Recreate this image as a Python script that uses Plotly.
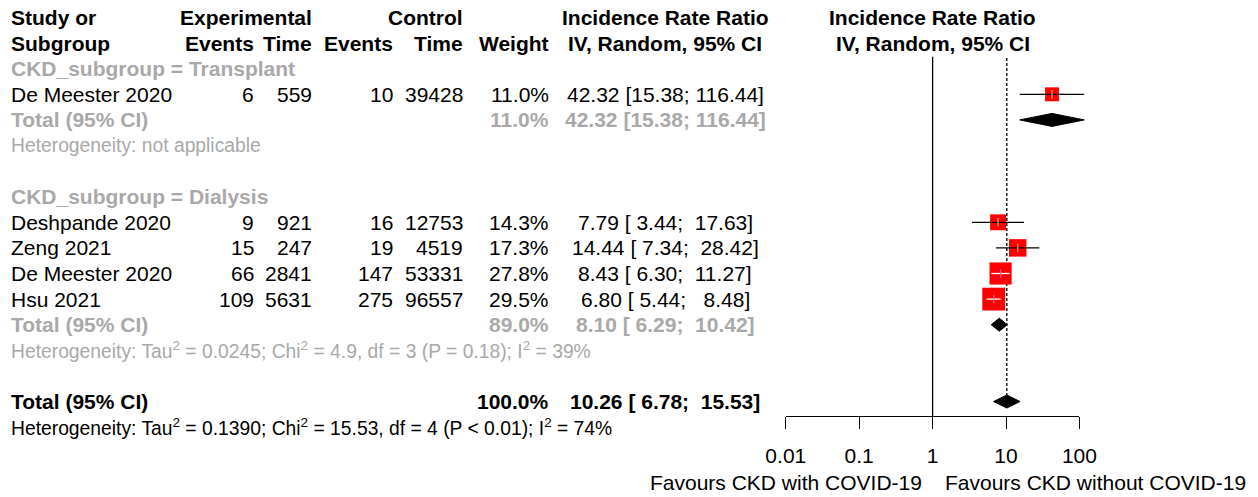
import numpy as np
import plotly.graph_objects as go

# ---------------- data ----------------
group_names = ["Transplant", "Dialysis"]
studies = ["De Meester 2020", "Deshpande 2020", "Zeng 2021", "De Meester 2020", "Hsu 2021"]
study_group = ["Transplant", "Dialysis", "Dialysis", "Dialysis", "Dialysis"]
exp_events = [6, 9, 15, 66, 109]
exp_time = [559, 921, 247, 2841, 5631]
ctrl_events = [10, 16, 19, 147, 275]
ctrl_time = [39428, 12753, 4519, 53331, 96557]
weights = [11.0, 14.3, 17.3, 27.8, 29.5]
irr = [42.32, 7.79, 14.44, 8.43, 6.80]
irr_lower = [15.38, 3.44, 7.34, 6.30, 5.44]
irr_upper = [116.44, 17.63, 28.42, 11.27, 8.48]

group_weight = [11.0, 89.0]
group_irr = [42.32, 8.10]
group_lower = [15.38, 6.29]
group_upper = [116.44, 10.42]
group_het = ["Heterogeneity: not applicable",
             "Heterogeneity: Tau<sup>2</sup> = 0.0245; Chi<sup>2</sup> = 4.9, df = 3 (P = 0.18); I<sup>2</sup> = 39%"]

overall_weight = 100.0
overall_irr = 10.26
overall_lower = 6.78
overall_upper = 15.53
overall_het = "Heterogeneity: Tau<sup>2</sup> = 0.1390; Chi<sup>2</sup> = 15.53, df = 4 (P < 0.01); I<sup>2</sup> = 74%"

tick_vals = [0.01, 0.1, 1, 10, 100]
tick_text = ["0.01", "0.1", "1", "10", "100"]
label_left = "Favours CKD with COVID-19"
label_right = "Favours CKD without COVID-19"

# ---------------- geometry (screen pixels) ----------------
SCR_W, SCR_H = 1258, 497
OFF = 8                      # page offset of the plot div
FIG_W, FIG_H = SCR_W - OFF, SCR_H - OFF
PX_DEC = 73.4
X_ONE = 932.6
ROW0, STEP = 68.7, 25.6
FONT = "Liberation Sans, Arial, sans-serif"
FS = 21
FS_HET = 19.3
GRAY = "#A9A9A9"
AXIS_Y = 416


def row_y(r):
    return ROW0 + STEP * r


def xpix(v):
    return X_ONE + PX_DEC * np.log10(v)


def px_to_paper_x(x):
    return (x - OFF) / FIG_W


def py_to_paper_y(y):
    return (SCR_H - y) / FIG_H


def fmt_ci(est, lo, up):
    s = f"{est:.2f} [{lo:>5.2f}; {up:>6.2f}]"
    return s.replace(" ", "\u00a0")


fig = go.Figure()
annotations = []


def txt_at(xp, yp, text, anchor="left", bold=False, color="black", size=FS):
    if bold:
        text = f"<b>{text}</b>"
    annotations.append(dict(
        x=px_to_paper_x(xp), xref="paper", y=yp, yref="y", text=text,
        showarrow=False, xanchor=anchor, yanchor="middle",
        font=dict(family=FONT, size=size, color=color), borderpad=0,
    ))


def txt(xp, r, text, anchor="left", bold=False, color="black", size=FS):
    txt_at(xp, row_y(r), text, anchor, bold, color, size)


# column positions (pixels)
X_STUDY = 10
X_EEV = 255
X_ETM = 313
X_CEV = 394
X_CTM = 463.5
X_WT = 549.5
X_EFF = 665

# headers
txt(X_STUDY, -2, "Study or", bold=True)
txt(X_STUDY, -1, "Subgroup", bold=True)
txt(X_ETM, -2, "Experimental", "right", bold=True)
txt(X_EEV, -1, "Events", "right", bold=True)
txt(X_ETM, -1, "Time", "right", bold=True)
txt(X_CTM, -2, "Control", "right", bold=True)
txt(X_CEV, -1, "Events", "right", bold=True)
txt(X_CTM, -1, "Time", "right", bold=True)
txt(X_WT, -1, "Weight", "right", bold=True)
txt(X_EFF, -2, "Incidence Rate Ratio", "center", bold=True)
txt(X_EFF, -1, "IV, Random, 95% CI", "center", bold=True)
txt(X_ONE, -2, "Incidence Rate Ratio", "center", bold=True)
txt(X_ONE, -1, "IV, Random, 95% CI", "center", bold=True)

# row layout
study_rows = []
group_total_rows = []
r = 0
for gi, g in enumerate(group_names):
    txt(X_STUDY, r, f"CKD_subgroup = {g}", bold=True, color=GRAY)
    r += 1
    for i, sg in enumerate(study_group):
        if sg == g:
            study_rows.append((i, r))
            txt(X_STUDY, r, studies[i])
            txt(X_EEV, r, str(exp_events[i]), "right")
            txt(X_ETM, r, str(exp_time[i]), "right")
            txt(X_CEV, r, str(ctrl_events[i]), "right")
            txt(X_CTM, r, str(ctrl_time[i]), "right")
            txt(X_WT, r, f"{weights[i]:.1f}%", "right")
            txt(X_EFF, r, fmt_ci(irr[i], irr_lower[i], irr_upper[i]), "center")
            r += 1
    group_total_rows.append(r)
    txt(X_STUDY, r, "Total (95% CI)", bold=True, color=GRAY)
    txt(X_WT, r, f"{group_weight[gi]:.1f}%", "right", bold=True, color=GRAY)
    txt(X_EFF, r, fmt_ci(group_irr[gi], group_lower[gi], group_upper[gi]), "center", bold=True, color=GRAY)
    r += 1
    txt(X_STUDY, r, group_het[gi], color=GRAY, size=FS_HET)
    r += 2
overall_row = r
txt(X_STUDY, overall_row, "Total (95% CI)", bold=True)
txt(X_WT, overall_row, f"{overall_weight:.1f}%", "right", bold=True)
txt(X_EFF, overall_row, fmt_ci(overall_irr, overall_lower, overall_upper), "center", bold=True)
txt(X_STUDY, overall_row + 1, overall_het, size=FS_HET)

# bottom labels
txt_at(X_ONE - 10, 482, label_left, "right")
txt_at(X_ONE + 11, 482, label_right, "left")

# ---------------- forest graphics ----------------
fig.add_trace(go.Scatter(x=[1, 1], y=[56.7, AXIS_Y], mode="lines",
                         line=dict(color="black", width=1.3), hoverinfo="skip"))
fig.add_trace(go.Scatter(x=[overall_irr, overall_irr], y=[58, row_y(overall_row) - 6.5], mode="lines",
                         line=dict(color="black", width=1.3, dash="3px,2px"), hoverinfo="skip"))

sq_x = [irr[i] for i, _ in study_rows]
sq_y = [row_y(rr) for _, rr in study_rows]
sq_size = [4.2 * np.sqrt(weights[i]) for i, _ in study_rows]
fig.add_trace(go.Scatter(x=sq_x, y=sq_y, mode="markers",
                         marker=dict(symbol="square", size=sq_size, color="#FF0000", opacity=1,
                                     line=dict(width=0)),
                         hoverinfo="skip"))

for color in ["black", "white"]:
    lx, ly, px_, py_ = [], [], [], []
    for k, (i, rr) in enumerate(study_rows):
        inside = (xpix(irr_upper[i]) - xpix(irr_lower[i])) < sq_size[k]
        if (color == "white") != inside:
            continue
        lx += [irr_lower[i], irr_upper[i], None]
        ly += [row_y(rr), row_y(rr), None]
        px_.append(irr[i])
        py_.append(row_y(rr))
    if lx:
        fig.add_trace(go.Scatter(x=lx, y=ly, mode="lines", line=dict(color=color, width=1.3),
                                 hoverinfo="skip"))
        fig.add_trace(go.Scatter(x=px_, y=py_, mode="markers",
                                 marker=dict(symbol="line-ns-open", size=6, opacity=1,
                                             line=dict(color=color, width=1.3)),
                                 hoverinfo="skip"))

dia = [(group_irr[k], group_lower[k], group_upper[k], row_y(group_total_rows[k])) for k in range(len(group_names))]
dia.append((overall_irr, overall_lower, overall_upper, row_y(overall_row)))
for est, lo, up, yc in dia:
    fig.add_trace(go.Scatter(x=[lo, est, up, est, lo], y=[yc, yc - 6.5, yc, yc + 6.5, yc],
                             mode="lines", fill="toself", fillcolor="black",
                             line=dict(color="black", width=1), hoverinfo="skip"))

fig.add_trace(go.Scatter(x=[1], y=[0.5], xaxis="x2", yaxis="y2", mode="markers",
                         marker=dict(opacity=0), hoverinfo="skip"))

fig.update_layout(
    width=FIG_W, height=FIG_H, autosize=False,
    margin=dict(l=0, r=0, t=0, b=0, pad=0, autoexpand=False),
    paper_bgcolor="white", plot_bgcolor="rgba(0,0,0,0)", showlegend=False, hovermode=False,
    xaxis=dict(type="log", range=[(OFF - X_ONE) / PX_DEC, (SCR_W - X_ONE) / PX_DEC], domain=[0, 1],
               visible=False, fixedrange=True, automargin=False),
    yaxis=dict(range=[SCR_H, OFF], domain=[0, 1], visible=False, fixedrange=True, automargin=False),
    xaxis2=dict(type="log", range=[-2, 2], anchor="y2",
                domain=[px_to_paper_x(xpix(tick_vals[0])), px_to_paper_x(xpix(tick_vals[-1]))],
                tickvals=tick_vals, ticktext=tick_text, ticks="outside", ticklen=12,
                tickwidth=1.3, tickcolor="black", showline=True, linecolor="black", linewidth=1.3,
                showgrid=False, zeroline=False, ticklabelstandoff=9, automargin=False,
                tickfont=dict(family=FONT, size=FS, color="black"), fixedrange=True),
    yaxis2=dict(anchor="x2", domain=[py_to_paper_y(AXIS_Y), py_to_paper_y(56.7)], range=[0, 1],
                visible=False, fixedrange=True, automargin=False),
    annotations=annotations,
)

fig.write_html("out.html")
